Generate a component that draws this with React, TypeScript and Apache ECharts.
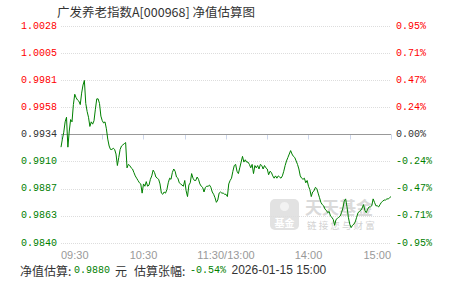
import React, { useEffect, useRef } from "react";
import * as echarts from "echarts";

const baseNav = 0.9934;

const navValues = [
  0.9923, 0.9930, 0.9936, 0.9945, 0.9949, 0.9923, 0.9937, 0.9947, 0.9945, 0.9960,
  0.9969, 0.9966, 0.9964, 0.9963, 0.9960, 0.9970, 0.9977, 0.9981, 0.9961, 0.9954,
  0.9949, 0.9941, 0.9945, 0.9943, 0.9946, 0.9956, 0.9965, 0.9965, 0.9961, 0.9950,
  0.9946, 0.9944, 0.9945, 0.9939, 0.9930, 0.9924, 0.9921, 0.9921, 0.9922, 0.9921,
  0.9917, 0.9907, 0.9914, 0.9921, 0.9924, 0.9925, 0.9926, 0.9927, 0.9905, 0.9908,
  0.9907, 0.9905, 0.9904, 0.9901, 0.9898, 0.9896, 0.9894, 0.9892, 0.9891, 0.9883,
  0.9891, 0.9889, 0.9893, 0.9889, 0.9890, 0.9895, 0.9898, 0.9903, 0.9901, 0.9897,
  0.9896, 0.9895, 0.9891, 0.9883, 0.9882, 0.9884, 0.9883, 0.9886, 0.9892, 0.9896,
  0.9895, 0.9901, 0.9904, 0.9902, 0.9897, 0.9896, 0.9892, 0.9891, 0.9890, 0.9889,
  0.9894, 0.9885, 0.9880, 0.9890, 0.9892, 0.9900, 0.9896, 0.9894, 0.9894, 0.9897,
  0.9895, 0.9891, 0.9889, 0.9888, 0.9884, 0.9888, 0.9889, 0.9889, 0.9890, 0.9888,
  0.9884, 0.9882, 0.9879, 0.9875, 0.9877, 0.9883, 0.9884, 0.9883, 0.9883, 0.9882,
  0.9882, 0.9880, 0.9891, 0.9894, 0.9896, 0.9902, 0.9907, 0.9908, 0.9902, 0.9900,
  0.9905, 0.9910, 0.9915, 0.9910, 0.9912, 0.9910, 0.9910, 0.9908, 0.9905, 0.9908,
  0.9900, 0.9907, 0.9905, 0.9907, 0.9904, 0.9908, 0.9907, 0.9904, 0.9907, 0.9905,
  0.9904, 0.9899, 0.9902, 0.9901, 0.9898, 0.9896, 0.9898, 0.9896, 0.9898, 0.9897,
  0.9896, 0.9898, 0.9902, 0.9907, 0.9911, 0.9914, 0.9917, 0.9920, 0.9917, 0.9915,
  0.9914, 0.9911, 0.9908, 0.9904, 0.9898, 0.9896, 0.9895, 0.9896, 0.9892, 0.9894,
  0.9889, 0.9886, 0.9880, 0.9884, 0.9885, 0.9888, 0.9887, 0.9883, 0.9879, 0.9875,
  0.9873, 0.9872, 0.9869, 0.9868, 0.9866, 0.9867, 0.9863, 0.9862, 0.9860, 0.9855,
  0.9860, 0.9861, 0.9862, 0.9863, 0.9866, 0.9870, 0.9876, 0.9878, 0.9871, 0.9862,
  0.9856, 0.9853, 0.9855, 0.9856, 0.9858, 0.9862, 0.9866, 0.9867, 0.9868, 0.9870,
  0.9873, 0.9868, 0.9866, 0.9869, 0.9871, 0.9871, 0.9872, 0.9878, 0.9875, 0.9872,
  0.9872, 0.9871, 0.9873, 0.9875, 0.9876, 0.9877, 0.9877, 0.9878, 0.9878, 0.9879,
  0.9880,
];

const navTickLabels = ["0.9840", "0.9863", "0.9887", "0.9910", "0.9934", "0.9958", "0.9981", "1.0005", "1.0028"];
const pctTickLabels = ["-0.95%", "-0.71%", "-0.47%", "-0.24%", "0.00%", "0.24%", "0.47%", "0.71%", "0.95%"];
const xTickLabels = ["09:30", "", "10:30", "", "11:30/13:00", "", "14:00", "", "15:00"];

const titleText = "广发养老指数A[000968] 净值估算图";
const estNav = "0.9880";
const estPct = "-0.54%";
const estTime = "2026-01-15 15:00";

const PCT_MAX = 0.95;
const PCT_STEP = 0.2375;

const RED = "#ff0000";
const GREEN = "#008000";
const DARK = "#333333";

function tickIndex(v: number) {
  return Math.round((v + PCT_MAX) / PCT_STEP);
}
function tickColor(v: any) {
  const i = tickIndex(Number(v));
  if (i > 4) return RED;
  if (i < 4) return GREEN;
  return DARK;
}

export default function App() {
  const ref = useRef<HTMLDivElement>(null);
  useEffect(() => {
    if (!ref.current) return;
    const chart = echarts.init(ref.current, undefined, { renderer: "svg" });
    const data = navValues.map((v, i) => [i, (v / baseNav - 1) * 100]);
    const mono = "Liberation Mono";
    const cjk = '"Noto Sans CJK SC"';
    chart.setOption({
      animation: false,
      backgroundColor: "#ffffff",
      grid: { left: 61, right: 60, top: 26, bottom: 38 },
      xAxis: {
        type: "value",
        min: 0,
        max: 240,
        interval: 30,
        axisLine: { show: true, lineStyle: { color: "#ccd6eb", width: 1 } },
        axisTick: { show: true, length: 5, lineStyle: { color: "#ccd6eb" } },
        splitLine: { show: false },
        axisLabel: {
          color: "#999999",
          fontFamily: "Liberation Sans",
          fontSize: 11,
          margin: 6,
          showMinLabel: true,
          showMaxLabel: true,
          alignMinLabel: "left",
          alignMaxLabel: "right",
          formatter: (v: number) => xTickLabels[Math.round(v / 30)] ?? "",
        },
      },
      yAxis: [
        {
          type: "value",
          position: "left",
          min: -PCT_MAX,
          max: PCT_MAX,
          interval: PCT_STEP,
          axisLine: { show: false },
          axisTick: { show: false },
          splitLine: { show: true, lineStyle: { color: "#dddddd", type: "dotted", width: 1 } },
          axisLabel: {
            margin: 4,
            fontFamily: mono,
            fontSize: 10,
            color: tickColor,
            formatter: (v: number) => navTickLabels[tickIndex(v)] ?? "",
          },
        },
        {
          type: "value",
          position: "right",
          min: -PCT_MAX,
          max: PCT_MAX,
          interval: PCT_STEP,
          axisLine: { show: false },
          axisTick: { show: false },
          splitLine: { show: false },
          axisLabel: {
            margin: 5,
            fontFamily: mono,
            fontSize: 10,
            color: tickColor,
            formatter: (v: number) => pctTickLabels[tickIndex(v)] ?? "",
          },
        },
      ],
      graphic: [
        {
          type: "rect",
          z: 0,
          shape: { x: 270, y: 199, width: 29, height: 31, r: 5 },
          style: { fill: "#e2e2e2" },
        },
        {
          type: "circle",
          z: 0,
          shape: { cx: 284.5, cy: 206.5, r: 4.5 },
          style: { fill: "#f2f2f2" },
        },
        {
          type: "text",
          z: 0,
          x: 284.5,
          y: 222,
          style: { text: "基金", font: `bold 10px ${cjk}`, fill: "#ffffff", align: "center", verticalAlign: "middle" },
        },
        {
          type: "text",
          z: 0,
          x: 305,
          y: 206.5,
          style: { text: "天天基金", font: `bold 17px ${cjk}`, fill: "#dadada", align: "left", verticalAlign: "middle" },
        },
        {
          type: "text",
          z: 0,
          x: 307,
          y: 225,
          style: { text: "链 接 您 与 财 富", font: `9.5px ${cjk}`, fill: "#d2d2d2", align: "left", verticalAlign: "middle" },
        },
        {
          type: "text",
          x: 57,
          y: 11.5,
          style: { text: titleText, font: `12.5px ${cjk}`, fill: DARK, align: "left", verticalAlign: "middle" },
        },
        {
          type: "text",
          x: 20,
          y: 270,
          style: { text: "净值估算:", font: `12px ${cjk}`, fill: DARK, align: "left", verticalAlign: "middle" },
        },
        {
          type: "text",
          x: 74,
          y: 270,
          style: { text: estNav, font: `10px "${mono}"`, fill: GREEN, align: "left", verticalAlign: "middle" },
        },
        {
          type: "text",
          x: 115,
          y: 270,
          style: { text: "元", font: `12px ${cjk}`, fill: DARK, align: "left", verticalAlign: "middle" },
        },
        {
          type: "text",
          x: 134,
          y: 270,
          style: { text: "估算张幅:", font: `12px ${cjk}`, fill: DARK, align: "left", verticalAlign: "middle" },
        },
        {
          type: "text",
          x: 190,
          y: 270,
          style: { text: estPct, font: `10px "${mono}"`, fill: GREEN, align: "left", verticalAlign: "middle" },
        },
        {
          type: "text",
          x: 231.5,
          y: 270,
          style: { text: estTime, font: `12px "Liberation Sans"`, fill: DARK, align: "left", verticalAlign: "middle" },
        },
      ],
      series: [
        {
          type: "line",
          xAxisIndex: 0,
          yAxisIndex: 0,
          data,
          showSymbol: false,
          symbol: "none",
          z: 5,
          lineStyle: { color: GREEN, width: 1 },
          markLine: {
            silent: true,
            symbol: "none",
            label: { show: false },
            lineStyle: { color: "#999999", type: "solid", width: 1 },
            data: [{ yAxis: 0 }],
            z: 3,
          },
        },
      ],
    });
    return () => chart.dispose();
  }, []);
  return (
    <div
      ref={ref}
      style={{ position: "fixed", left: 0, top: 0, width: 451, height: 281, background: "#fff" }}
    />
  );
}
